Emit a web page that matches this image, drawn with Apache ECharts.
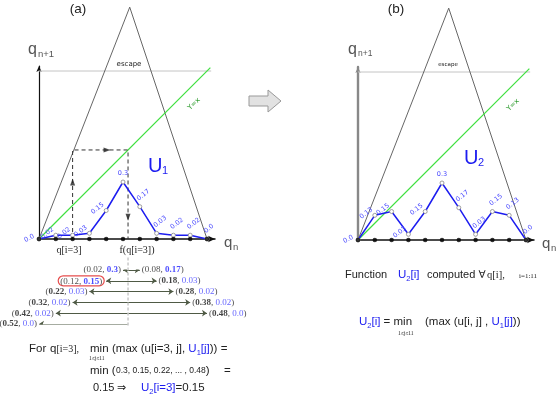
<!DOCTYPE html>
<html><head><meta charset="utf-8">
<script src="https://cdn.jsdelivr.net/npm/echarts@6/dist/echarts.min.js"></script>
<style>html,body{margin:0;padding:0;background:#fff}#c{width:556px;height:394px}</style>
</head><body><div id="c"></div>
<script>
// ---------- data ----------
const qGrid = [0, 0.1, 0.2, 0.3, 0.4, 0.5, 0.6, 0.7, 0.8, 0.9, 1.0];
const U1 = [0.0, 0.02, 0.02, 0.03, 0.15, 0.3, 0.17, 0.03, 0.02, 0.02, 0.0];
const U2 = [0.0, 0.13, 0.15, 0.03, 0.15, 0.3, 0.17, 0.03, 0.15, 0.13, 0.0];
const tentMap = [[0, 0], [0.54, 1.38], [1.0, 0]];
const escapeLevel = 1.0;
const escapeEnd = 1.025;
const diagEnd = 1.02;
const iSel = 2;            // q[i=3]
const fq = 0.53;           // f(q[i=3])
const uLeft = [0.02, 0.12, 0.22, 0.32, 0.42, 0.52];   // j = 6..1
const jLeft = [5, 4, 3, 2, 1, 0];
const uRight = [0.08, 0.18, 0.28, 0.38, 0.48];        // j = 7..11
const jRight = [6, 7, 8, 9, 10];
const arrowUpAt = 0.34, arrowRightAt = 0.405, arrowDownAt = 0.13;

// ---------- helpers ----------
const XMAX = 176 / 168;
const YMAX = 173 / 168;
const UMAX = 173 / 190;
const fmt = v => (v === 0 ? '0.0' : String(v));
const BLUE = '#1c1cf0', LBLUE = '#4848ff', GREEN = '#40e040';
const SANS = 'Liberation Sans';

function xAx(gi, hide) {
  return {gridIndex: gi, type: 'value', min: 0, max: XMAX, show: !hide,
    axisLine: {show: true, onZero: false, lineStyle: {color: '#111', width: 1.5}, symbol: ['none', 'arrow'], symbolSize: [5, 7]},
    axisTick: {show: false}, axisLabel: {show: false}, splitLine: {show: false}};
}
function yAx(gi, max, hide, color, width) {
  return {gridIndex: gi, type: 'value', min: 0, max: max, show: !hide,
    axisLine: {show: true, onZero: false, lineStyle: {color: color || '#111', width: width || 1.2}, symbol: ['none', 'arrow'], symbolSize: [4, 6]},
    axisTick: {show: false}, axisLabel: {show: false}, splitLine: {show: false}};
}
function uData(vals) {
  return vals.map((v, j) => {
    let lab;
    if (j === 0) lab = {position: 'left', rotate: 28, align: 'right', verticalAlign: 'bottom', distance: 1};
    else if (j === 5) lab = {position: 'top', rotate: 0, align: 'center', distance: 3};
    else if (j < 5) lab = {position: 'top', rotate: 38, align: 'right', verticalAlign: 'bottom', distance: 2, offset: [-1, 0]};
    else lab = {position: 'top', rotate: 38, align: 'left', verticalAlign: 'bottom', distance: 2};
    return {value: [qGrid[j], v], label: lab};
  });
}
function panelSeries(xi, yi, yu, U, withCobweb) {
  const s = [
    {type: 'line', xAxisIndex: xi, yAxisIndex: yi, data: tentMap, symbol: 'none', clip: false, silent: true,
      lineStyle: {color: '#555', width: 0.9}, z: 2},
    {type: 'line', xAxisIndex: xi, yAxisIndex: yi, data: [[0, escapeLevel], [escapeEnd, escapeLevel]], symbol: 'none', clip: false,
      lineStyle: {color: '#c4c4c4', width: 1}, z: 1},
    {type: 'line', xAxisIndex: xi, yAxisIndex: yi, data: [[0, 0], [diagEnd, diagEnd]], symbol: 'none', clip: false,
      color: GREEN, itemStyle: {color: GREEN}, lineStyle: {color: GREEN, width: 1.2, opacity: 1}, z: 3},
    {type: 'line', xAxisIndex: xi, yAxisIndex: yu, data: uData(U), symbol: 'circle', symbolSize: 4, clip: false,
      itemStyle: {color: '#fff', borderColor: '#888', borderWidth: 0.8},
      lineStyle: {color: BLUE, width: 1.5},
      label: {show: true, color: LBLUE, fontSize: 6.5, fontFamily: 'DejaVu Sans', formatter: p => fmt(p.value[1])}, z: 5},
    {type: 'scatter', xAxisIndex: xi, yAxisIndex: yu, data: qGrid.map(q => [q, 0]), symbolSize: 4.5, clip: false,
      itemStyle: {color: '#000'}, z: 8}
  ];
  if (withCobweb) {
    const q = qGrid[iSel];
    s.push({type: 'line', xAxisIndex: xi, yAxisIndex: yi, data: [[q, 0], [q, fq], [fq, fq], [fq, 0]], symbol: 'none',
      lineStyle: {color: '#333', width: 1, type: [4, 3]}, z: 4});
    s.push({type: 'scatter', xAxisIndex: xi, yAxisIndex: yi, symbol: 'triangle', symbolSize: [5, 7],
      itemStyle: {color: '#222'}, z: 6,
      data: [{value: [q, arrowUpAt], symbolRotate: 0}, {value: [arrowRightAt, fq], symbolRotate: -90}, {value: [fq, arrowDownAt], symbolRotate: 180}]});
  }
  return s;
}
function pairLabel(u, U) {
  const ub = u >= U, Ub = U > u;
  return '(' + (ub ? '{nb|' : '{n|') + fmt(u) + '}, ' + (Ub ? '{vb|' : '{v|') + fmt(U) + '})';
}
const richPair = {
  n: {fontFamily: 'Liberation Serif', fontSize: 9, color: '#222'},
  nb: {fontFamily: 'Liberation Serif', fontSize: 9, color: '#111', fontWeight: 'bold'},
  v: {fontFamily: 'Liberation Serif', fontSize: 9, color: '#3c3cff'},
  vb: {fontFamily: 'Liberation Serif', fontSize: 9, color: '#2020ff', fontWeight: 'bold'}
};

// list series
const listLines = [];
const listLabels = [];
uLeft.forEach((u, r) => {
  const j = jLeft[r];
  listLines.push({coords: [[fq, r], [qGrid[j], r]]});
  const item = {value: [qGrid[j], r], label: {position: 'left', formatter: pairLabel(u, U1[j])}};
  if (r === 1) Object.assign(item.label, {borderColor: '#e02020', borderWidth: 1.2, borderRadius: 5, padding: [1, 2, 0, 2]});
  listLabels.push(item);
});
uRight.forEach((u, r) => {
  const j = jRight[r];
  listLines.push({coords: [[fq, r], [qGrid[j], r]]});
  listLabels.push({value: [qGrid[j], r], label: {position: 'right', formatter: pairLabel(u, U1[j])}});
});

function T(x, y, text, o) {
  return {type: 'text', x: x, y: y, silent: true, z: 50,
    style: Object.assign({text: text, fontFamily: SANS, fontSize: 11.5, fill: '#222', align: 'left', verticalAlign: 'middle'}, o || {})};
}
const richF = {
  b: {fill: BLUE, color: BLUE, fontFamily: SANS, fontSize: 11.5},
  bs: {fill: BLUE, color: BLUE, fontFamily: SANS, fontSize: 7.5, verticalAlign: 'bottom', padding: [7, 0, 0, 0]},
  r: {fontFamily: 'Liberation Serif', fontSize: 10},
  n: {fontFamily: SANS, fontSize: 8.5}
};

const graphics = [
  T(78, 9, '(a)', {fontSize: 13.5, align: 'center'}),
  T(396, 9, '(b)', {fontSize: 13.5, align: 'center'}),
  T(28, 50, 'q', {fontSize: 16, fill: '#555'}), T(38, 54, 'n+1', {fontSize: 9.5, fill: '#555'}),
  T(348, 50, 'q', {fontSize: 16, fill: '#555'}), T(358, 54, 'n+1', {fontSize: 8.5, fill: '#555'}),
  T(224, 243, 'q', {fontSize: 15, fill: '#555'}), T(233, 247, 'n', {fontSize: 9.5, fill: '#555'}),
  T(542, 244, 'q', {fontSize: 15, fill: '#555'}), T(551, 248, 'n', {fontSize: 9.5, fill: '#555'}),
  T(129, 64, 'escape', {fontFamily: 'DejaVu Sans', fontSize: 7, align: 'center', fill: '#222'}),
  T(448, 65, 'escape', {fontFamily: 'DejaVu Sans', fontSize: 5.5, align: 'center', fill: '#222'}),
  {type: 'text', x: 194, y: 104, rotation: Math.PI / 4, silent: true, z: 50, style: {text: 'Y=x', fontFamily: 'DejaVu Sans', fontSize: 7, fill: '#2a9a2a', align: 'center', verticalAlign: 'middle'}},
  {type: 'text', x: 513, y: 105, rotation: Math.PI / 4, silent: true, z: 50, style: {text: 'Y=x', fontFamily: 'DejaVu Sans', fontSize: 7, fill: '#2a9a2a', align: 'center', verticalAlign: 'middle'}},
  T(148, 166, 'U', {fontSize: 20, fill: BLUE}), T(162, 171, '1', {fontSize: 11, fill: BLUE}),
  T(464, 158, 'U', {fontSize: 20, fill: BLUE}), T(478, 163, '2', {fontSize: 11, fill: BLUE}),
  T(69, 250, 'q[i=3]', {fontFamily: 'Liberation Serif', fontSize: 10, align: 'center'}),
  T(137, 250, 'f(q[i=3])', {fontFamily: 'Liberation Serif', fontSize: 10, align: 'center'}),
  {type: 'polygon', silent: true, z: 50, shape: {points: [[249, 96], [268, 96], [268, 90], [281, 101], [268, 112], [268, 106], [249, 106]]},
    style: {fill: '#e2e2e2', stroke: '#999', lineWidth: 1}},
  // formula (a)
  T(29, 349, 'For', {}),
  T(50, 349, 'q{r|[i=3],}', {rich: richF}),
  T(90, 349, 'min', {}),
  T(89, 359, '1≤j≤11', {fontFamily: 'Liberation Serif', fontSize: 5.5}),
  T(112, 349, '(max (u[i=3, j], {b|U}{bs|1}{b|[j]})) =', {rich: richF}),
  T(90, 371, 'min (', {}),
  T(116, 371, '{n|0.3, 0.15, 0.22, ... , 0.48})', {rich: richF}),
  T(224, 371, '=', {}),
  T(93, 388, '0.15', {fontSize: 11}),
  T(117, 388, '⇒', {fontFamily: 'DejaVu Sans', fontSize: 11}),
  T(141, 388, '{b|U}{bs|2}{b|[i=3]}=0.15', {rich: richF}),
  // text (b)
  T(345, 275, 'Function', {fontSize: 11}),
  T(398, 275, '{b|U}{bs|2}{b|[i]}', {rich: richF}),
  T(427, 275, 'computed', {fontSize: 11}),
  T(478.5, 275, '∀', {fontFamily: 'DejaVu Sans', fontSize: 10.5}),
  T(487, 275, 'q[i],', {fontFamily: 'Liberation Serif', fontSize: 10.5}),
  T(519, 276, 'i=1:11', {fontFamily: 'Liberation Serif', fontSize: 7}),
  T(359, 322, '{b|U}{bs|2}{b|[i]} = min', {rich: richF}),
  T(425, 322, '(max (u[i, j] , {b|U}{bs|1}{b|[j]}))', {rich: richF}),
  T(398, 334, '1≤j≤11', {fontFamily: 'Liberation Serif', fontSize: 5.5})
];

const option = {
  animation: false,
  backgroundColor: '#fff',
  grid: [
    {left: 39, top: 66, width: 176, height: 173},
    {left: 358, top: 67, width: 176, height: 173},
    {left: 39, top: 270, width: 176, height: 54}
  ],
  xAxis: [xAx(0), xAx(1), xAx(2, true)],
  yAxis: [
    yAx(0, YMAX, false, '#111', 1.2),
    yAx(0, UMAX, true),
    yAx(1, YMAX, false, '#888', 2.4),
    yAx(1, UMAX, true),
    {gridIndex: 2, type: 'value', min: 0, max: 5, inverse: true, show: false}
  ],
  series: [
    ...panelSeries(0, 0, 1, U1, true),
    ...panelSeries(1, 2, 3, U2, false),
    {type: 'line', xAxisIndex: 2, yAxisIndex: 4, data: [[fq, -1.15], [fq, 5.3]], symbol: 'none', clip: false,
      lineStyle: {color: '#c8c8c8', width: 1.5, type: [3, 2]}},
    {type: 'lines', coordinateSystem: 'cartesian2d', xAxisIndex: 2, yAxisIndex: 4, data: listLines,
      symbol: ['none', 'arrow'], symbolSize: 5, lineStyle: {color: '#4f5a45', width: 1, opacity: 1}},
    {type: 'scatter', xAxisIndex: 2, yAxisIndex: 4, data: listLabels, symbolSize: 0, clip: false,
      label: {show: true, distance: 2, fontFamily: 'Liberation Serif', fontSize: 9, color: '#222', rich: richPair}}
  ],
  graphic: graphics
};
const chart = echarts.init(document.getElementById('c'), null, {renderer: 'canvas'});
chart.setOption(option);
</script></body></html>
